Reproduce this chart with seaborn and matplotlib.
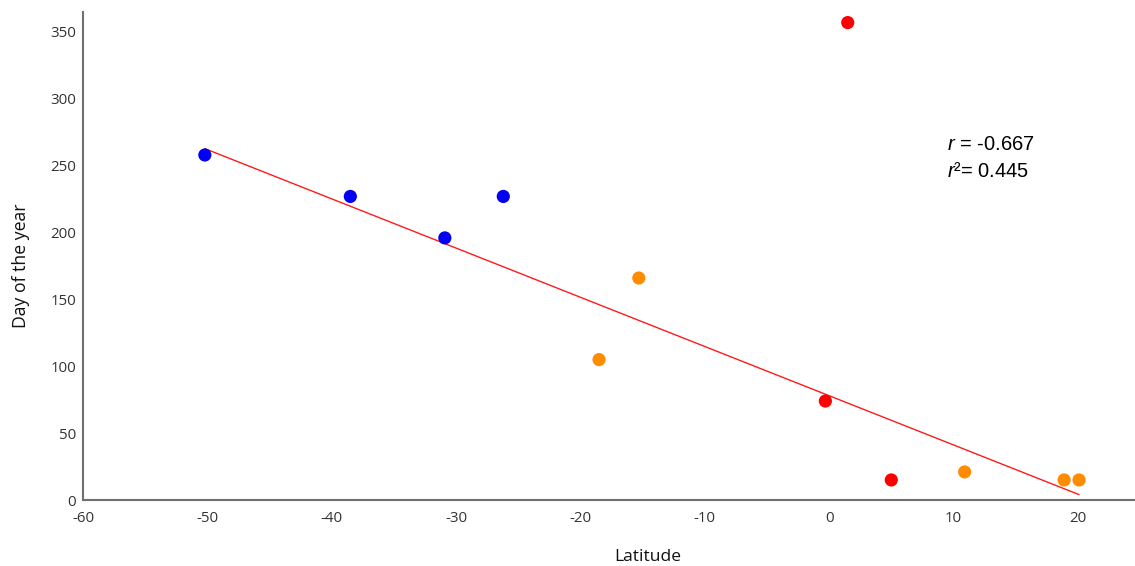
import numpy as np
import pandas as pd
import matplotlib
matplotlib.use("Agg")
import matplotlib.pyplot as plt
import seaborn as sns

# values
latitude = [-50.2, -38.5, -30.9, -26.2, -18.5, -15.3, 1.5, -0.3, 5.0, 10.9, 18.9, 20.1]
day_of_year = [258, 227, 196, 227, 105, 166, 357, 74, 15, 21, 15, 15]
group = ["blue", "blue", "blue", "blue", "orange", "orange",
         "red", "red", "red", "orange", "orange", "orange"]
palette = {"blue": "#0000f5", "orange": "#ff8c00", "red": "#ff0000"}

# trend line as drawn in the reference
fit_slope = -3.68
fit_intercept = 78.0

df = pd.DataFrame({"Latitude": latitude, "Day": day_of_year, "group": group})
fit_x = np.array([min(latitude), max(latitude)])
fit = pd.DataFrame({"Latitude": fit_x, "Day": fit_intercept + fit_slope * fit_x})

sns.set_style("white")
plt.rcParams["font.family"] = ["Open Sans", "DejaVu Sans"]
plt.rcParams["axes.unicode_minus"] = False
plt.rcParams["mathtext.fontset"] = "custom"
plt.rcParams["mathtext.it"] = "Liberation Sans:italic"
plt.rcParams["mathtext.rm"] = "Liberation Sans"

fig = plt.figure(figsize=(11.35, 5.66), dpi=100)
ax = fig.add_axes([0.0731, 0.1166, 0.9269, 0.8624])

sns.lineplot(data=fit, x="Latitude", y="Day", ax=ax, color="#ff1a1a", lw=1.0)
sns.scatterplot(data=df, x="Latitude", y="Day", hue="group", palette=palette,
                s=90, edgecolor="none", legend=False, ax=ax, zorder=3)

ax.set_xlim(-60, 24.6)
ax.set_ylim(0, 365)
ax.set_xticks(np.arange(-60, 21, 10))
ax.set_yticks(np.arange(0, 351, 50))
ax.tick_params(axis="both", direction="out", length=4, width=1, color="#707070",
               labelsize=10.8, labelcolor="#333333")
ax.tick_params(axis="x", pad=4)
ax.tick_params(axis="y", pad=1)

for side in ["top", "right"]:
    ax.spines[side].set_visible(False)
for side in ["left", "bottom"]:
    ax.spines[side].set_color("#707070")
    ax.spines[side].set_linewidth(1.5)

ax.set_xlabel("Latitude", fontsize=12.5, color="#111111")
ax.set_ylabel("Day of the year", fontsize=12.7, color="#111111")
ax.xaxis.set_label_coords(0.537, -0.1)
ax.yaxis.set_label_coords(-0.0504, 0.48)

ax.text(0.8217, 0.728, "$r$ = -0.667", transform=ax.transAxes, fontsize=14.5,
        family="Liberation Sans", va="center", color="black")
ax.text(0.8217, 0.672, "$r$²= 0.445", transform=ax.transAxes, fontsize=14.5,
        family="Liberation Sans", va="center", color="black")

fig.savefig("out.png", dpi=100)
